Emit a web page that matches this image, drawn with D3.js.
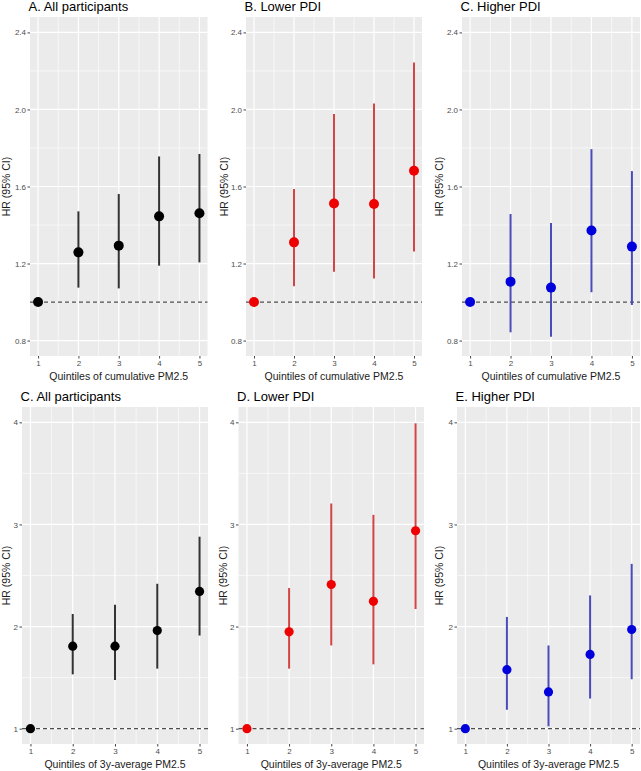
<!DOCTYPE html>
<html>
<head>
<meta charset="utf-8">
<script src="https://cdn.jsdelivr.net/npm/d3@7"></script>
<style>
  html, body { margin: 0; padding: 0; background: #fff; }
  svg { display: block; font-family: "Liberation Sans", Arial, sans-serif; }
</style>
</head>
<body>
<div id="chart"></div>
<script>
// ── Data ─────────────────────────────────────────────────────────────────────
const quintiles = [1, 2, 3, 4, 5];

const topTicks = [0.8, 1.2, 1.6, 2.0, 2.4];
const topMinor = [1.0, 1.4, 1.8, 2.2];
const bottomTicks = [1, 2, 3, 4];
const bottomMinor = [1.5, 2.5, 3.5];

const titles = [
  "A. All participants", "B. Lower PDI", "C. Higher PDI",
  "C. All participants", "D. Lower PDI", "E. Higher PDI",
];
const xTitles = ["Quintiles of cumulative PM2.5", "Quintiles of 3y-average PM2.5"];

// cumulative PM2.5
const cumAllHR = [1, 1.258, 1.293, 1.445, 1.461];
const cumAllLo = [1, 1.075, 1.071, 1.189, 1.206];
const cumAllHi = [1, 1.471, 1.561, 1.756, 1.769];
const cumLowHR = [1, 1.310, 1.512, 1.509, 1.682];
const cumLowLo = [1, 1.082, 1.158, 1.123, 1.263];
const cumLowHi = [1, 1.587, 1.976, 2.031, 2.244];
const cumHighHR = [1, 1.106, 1.075, 1.372, 1.288];
const cumHighLo = [1, 0.843, 0.820, 1.051, 0.985];
const cumHighHi = [1, 1.457, 1.410, 1.794, 1.680];

// 3-year average PM2.5
const avgAllHR = [1, 1.808, 1.808, 1.961, 2.344];
const avgAllLo = [1, 1.532, 1.477, 1.588, 1.912];
const avgAllHi = [1, 2.123, 2.214, 2.419, 2.880];
const avgLowHR = [1, 1.948, 2.412, 2.247, 2.938];
const avgLowLo = [1, 1.588, 1.815, 1.630, 2.172];
const avgLowHi = [1, 2.377, 3.205, 3.094, 3.990];
const avgHighHR = [1, 1.578, 1.360, 1.727, 1.971];
const avgHighLo = [1, 1.185, 1.023, 1.295, 1.484];
const avgHighHi = [1, 2.094, 1.815, 2.305, 2.614];

// ── Layout ───────────────────────────────────────────────────────────────────
const W = 641, H = 771;
const colours = [
  { point: "#000000", line: "#333333" },
  { point: "#ee0000", line: "#d34545" },
  { point: "#0000dd", line: "#4b4bbb" },
];

const topRow = { y0: 17, y1: 356, domain: [0.72, 2.48], ticks: topTicks, minor: topMinor, fmt: d3.format(".1f"), r: 5 };
const bottomRow = { y0: 407, y1: 744, domain: [0.85, 4.15], ticks: bottomTicks, minor: bottomMinor, fmt: d3.format("d"), r: 4.6 };

const panels = [
  { row: topRow, x0: 30, x1: 207.5, title: titles[0], xt: xTitles[0], yt: 6, hr: cumAllHR, lo: cumAllLo, hi: cumAllHi, c: colours[0] },
  { row: topRow, x0: 246, x1: 422, title: titles[1], xt: xTitles[0], yt: 224, hr: cumLowHR, lo: cumLowLo, hi: cumLowHi, c: colours[1] },
  { row: topRow, x0: 462, x1: 640, title: titles[2], xt: xTitles[0], yt: 439, hr: cumHighHR, lo: cumHighLo, hi: cumHighHi, c: colours[2] },
  { row: bottomRow, x0: 22, x1: 208, title: titles[3], xt: xTitles[1], yt: 6, hr: avgAllHR, lo: avgAllLo, hi: avgAllHi, c: colours[0] },
  { row: bottomRow, x0: 238.5, x1: 424, title: titles[4], xt: xTitles[1], yt: 223, hr: avgLowHR, lo: avgLowLo, hi: avgLowHi, c: colours[1] },
  { row: bottomRow, x0: 457, x1: 640, title: titles[5], xt: xTitles[1], yt: 439, hr: avgHighHR, lo: avgHighLo, hi: avgHighHi, c: colours[2] },
];

const svg = d3.select("#chart").append("svg").attr("width", W).attr("height", H);
svg.append("rect").attr("width", W).attr("height", H).attr("fill", "#fff");

for (const p of panels) {
  const row = p.row;
  const x = d3.scaleLinear().domain([0.8, 5.2]).range([p.x0, p.x1]);
  const y = d3.scaleLinear().domain(row.domain).range([row.y1, row.y0]);
  const g = svg.append("g");

  // panel background
  g.append("rect")
    .attr("x", p.x0).attr("y", row.y0)
    .attr("width", p.x1 - p.x0).attr("height", row.y1 - row.y0)
    .attr("fill", "#ebebeb");

  // minor grid
  for (const v of row.minor) {
    g.append("line").attr("x1", p.x0).attr("x2", p.x1).attr("y1", y(v)).attr("y2", y(v))
      .attr("stroke", "#fff").attr("stroke-width", 0.6);
  }
  for (const v of [1.5, 2.5, 3.5, 4.5]) {
    g.append("line").attr("y1", row.y0).attr("y2", row.y1).attr("x1", x(v)).attr("x2", x(v))
      .attr("stroke", "#fff").attr("stroke-width", 0.6);
  }
  // major grid
  for (const v of row.ticks) {
    g.append("line").attr("x1", p.x0).attr("x2", p.x1).attr("y1", y(v)).attr("y2", y(v))
      .attr("stroke", "#fff").attr("stroke-width", 1.2);
  }
  for (const v of quintiles) {
    g.append("line").attr("y1", row.y0).attr("y2", row.y1).attr("x1", x(v)).attr("x2", x(v))
      .attr("stroke", "#fff").attr("stroke-width", 1.2);
  }

  // axes
  const ya = g.append("g").attr("transform", `translate(${p.x0},0)`)
    .call(d3.axisLeft(y).tickValues(row.ticks).tickFormat(row.fmt).tickSize(2.5).tickPadding(1.5));
  const xa = g.append("g").attr("transform", `translate(0,${row.y1})`)
    .call(d3.axisBottom(x).tickValues(quintiles).tickFormat(d3.format("d")).tickSize(2.5).tickPadding(1.5));
  for (const a of [ya, xa]) {
    a.select(".domain").remove();
    a.selectAll(".tick line").attr("stroke", "#333").attr("stroke-width", 0.9);
    a.selectAll(".tick text").attr("fill", "#4d4d4d").attr("font-size", "8px")
      .attr("font-family", "'Liberation Sans', Arial, sans-serif");
  }

  // reference line
  g.append("line").attr("x1", p.x0).attr("x2", p.x1).attr("y1", y(1)).attr("y2", y(1))
    .attr("stroke", "#4d4d4d").attr("stroke-width", 1.2).attr("stroke-dasharray", "4,3");

  // CI bars and points
  quintiles.forEach((q, i) => {
    if (p.hi[i] !== p.lo[i]) {
      g.append("line").attr("x1", x(q)).attr("x2", x(q))
        .attr("y1", y(p.lo[i])).attr("y2", y(p.hi[i]))
        .attr("stroke", p.c.line).attr("stroke-width", 2);
    }
    g.append("circle").attr("cx", x(q)).attr("cy", y(p.hr[i])).attr("r", row.r)
      .attr("fill", p.c.point);
  });

  // titles
  g.append("text").attr("x", p.x0 - 1.5).attr("y", row.y0 - 6.5)
    .attr("font-size", "13px").attr("fill", "#000").text(p.title);
  g.append("text").attr("x", (p.x0 + p.x1) / 2).attr("y", row.y1 + 23.5)
    .attr("text-anchor", "middle").attr("font-size", "10.5px").attr("fill", "#1a1a1a").text(p.xt);
  g.append("text")
    .attr("transform", `translate(${p.yt + 4},${(row.y0 + row.y1) / 2}) rotate(-90)`)
    .attr("text-anchor", "middle").attr("font-size", "10.5px").attr("fill", "#1a1a1a").text("HR (95% CI)");
}
</script>
</body>
</html>
